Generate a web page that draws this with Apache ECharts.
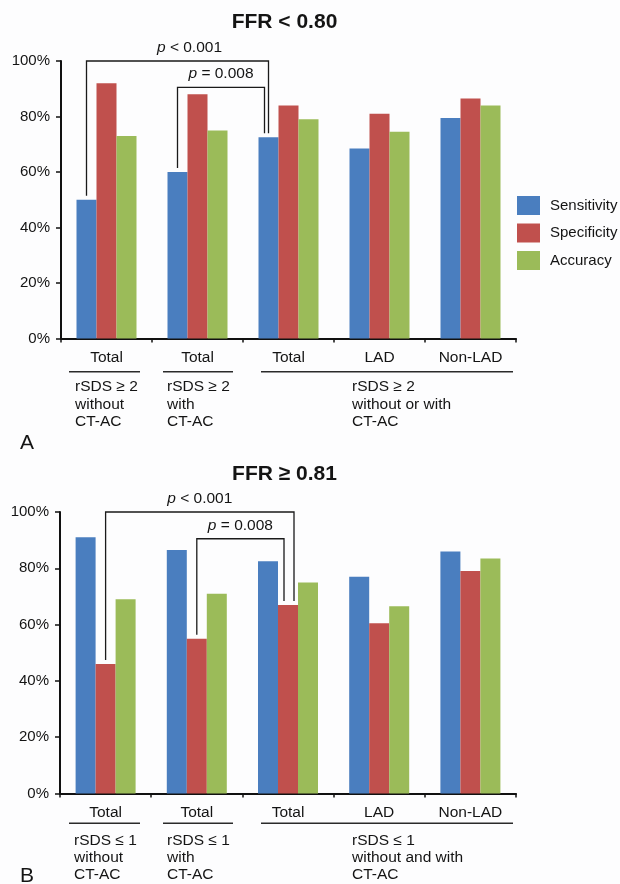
<!DOCTYPE html>
<html>
<head>
<meta charset="utf-8">
<script src="https://cdn.jsdelivr.net/npm/echarts@6/dist/echarts.min.js"></script>
<style>
  html, body { margin: 0; padding: 0; background: #fdfdfe; }
  #chart { width: 620px; height: 884px; }
</style>
</head>
<body>
<div id="chart"></div>
<script>
// Diagnostic performance of rSDS for FFR thresholds (panel A: FFR < 0.80, panel B: FFR >= 0.81)
const categories = ['Total', 'Total', 'Total', 'LAD', 'Non-LAD'];
const seriesNames = ['Sensitivity', 'Specificity', 'Accuracy'];

// Panel A (%)
const sensitivityA = [50, 60, 72.5, 68.5, 79.5];
const specificityA = [92, 88, 84, 81, 86.5];
const accuracyA    = [73, 75, 79, 74.5, 84];

// Panel B (%)
const sensitivityB = [91, 86.5, 82.5, 77, 86];
const specificityB = [46, 55, 67, 60.5, 79];
const accuracyB    = [69, 71, 75, 66.5, 83.5];

const yTickValues = [0, 20, 40, 60, 80, 100];

// Comparison brackets: [fromCategory, fromSeries, toCategory, toSeries, bracketLevel(%)]
const bracketsA = [[0, 0, 2, 0, 100], [1, 0, 2, 0, 90.5]];
const bracketsB = [[0, 1, 2, 1, 100], [1, 1, 2, 1, 90.5]];
const bracketLabels = ['< 0.001', '= 0.008'];

const colors = ['#4a7ebf', '#c0504d', '#9bbb59'];
const FONT = '"Liberation Sans", Arial, Helvetica, sans-serif';
const TEXT = '#141414';
const BAR_W = 20;
const LABEL_SIZE = 15.5;

const chart = echarts.init(document.getElementById('chart'));

function xAxisCfg(gridIndex) {
  return {
    type: 'category', gridIndex: gridIndex, data: categories,
    axisLine: { lineStyle: { color: '#111', width: 2 } },
    axisTick: { show: true, length: 4, lineStyle: { color: '#111', width: 1.5 } },
    axisLabel: { color: TEXT, fontSize: LABEL_SIZE, fontFamily: FONT, margin: 11 }
  };
}
function yAxisCfg(gridIndex) {
  return {
    type: 'value', gridIndex: gridIndex, min: 0, max: 100, interval: 20,
    splitLine: { show: false },
    axisLine: { show: true, lineStyle: { color: '#111', width: 2 } },
    axisTick: { show: true, length: 5, lineStyle: { color: '#111', width: 1.5 } },
    axisLabel: {
      color: TEXT, fontSize: 15, fontFamily: FONT, margin: 11,
      formatter: function (v) { return yTickValues.indexOf(v) >= 0 ? v + '%' : ''; }
    }
  };
}

function barSeries(name, data, idx, axisIndex) {
  return {
    name: name, type: 'bar', data: data,
    xAxisIndex: axisIndex, yAxisIndex: axisIndex,
    barWidth: BAR_W, barGap: '0%',
    itemStyle: { color: colors[idx] },
    emphasis: { disabled: true }
  };
}

// rightShift nudges the right-hand leg of each bracket sideways so legs don't overlap;
// labelShift moves the p-value text horizontally from the bracket midpoint
function bracketSeries(brackets, values, axisIndex, rightShift, labelShift) {
  return {
    type: 'custom', xAxisIndex: axisIndex, yAxisIndex: axisIndex,
    data: brackets, encode: { x: 0, y: 4 }, clip: false, silent: true,
    renderItem: function (params, api) {
      const i = params.dataIndex;
      const c0 = api.value(0), s0 = api.value(1), c1 = api.value(2), s1 = api.value(3), lvl = api.value(4);
      const p0 = api.coord([c0, values[s0][c0]]);
      const p1 = api.coord([c1, values[s1][c1]]);
      const yTop = api.coord([c0, lvl])[1];
      const x0 = p0[0] + (s0 - 1) * BAR_W;
      const x1 = p1[0] + (s1 - 1) * BAR_W + rightShift[i];
      return {
        type: 'group',
        children: [
          {
            type: 'polyline',
            shape: { points: [[x0, p0[1] - 4], [x0, yTop], [x1, yTop], [x1, p1[1] - 4]] },
            style: { stroke: '#1a1a1a', lineWidth: 1.3, fill: 'none' }
          },
          {
            type: 'text',
            style: {
              text: '{i|p} ' + bracketLabels[i],
              x: (x0 + x1) / 2 + labelShift[i], y: yTop - 13.5,
              align: 'center', verticalAlign: 'middle',
              fontSize: LABEL_SIZE, fontFamily: FONT, fill: TEXT,
              rich: { i: { fontStyle: 'italic', fontSize: LABEL_SIZE, fontFamily: FONT, fill: TEXT } }
            }
          }
        ]
      };
    }
  };
}

function txt(text, x, y, opts) {
  return {
    type: 'text', silent: true,
    style: Object.assign({
      text: text, x: x, y: y, fill: TEXT, fontSize: LABEL_SIZE, fontFamily: FONT,
      align: 'left', verticalAlign: 'middle'
    }, opts || {})
  };
}
function hline(x1, x2, y) {
  return { type: 'line', silent: true, shape: { x1: x1, y1: y, x2: x2, y2: y }, style: { stroke: '#2a2a2a', lineWidth: 1.5 } };
}

const valuesA = [sensitivityA, specificityA, accuracyA];
const valuesB = [sensitivityB, specificityB, accuracyB];

const graphics = [
  txt('FFR < 0.80', 284.5, 22, { align: 'center', fontSize: 21, fontWeight: 'bold' }),
  txt('FFR \u2265 0.81', 284.5, 474, { align: 'center', fontSize: 21, fontWeight: 'bold' }),
  // group captions, panel A
  hline(69, 140, 371.7), hline(163, 233, 371.7), hline(261, 513, 371.7),
  txt('rSDS \u2265 2\nwithout\nCT-AC', 75, 378, { verticalAlign: 'top', lineHeight: 17.5 }),
  txt('rSDS \u2265 2\nwith\nCT-AC', 167, 378, { verticalAlign: 'top', lineHeight: 17.5 }),
  txt('rSDS \u2265 2\nwithout or with\nCT-AC', 352, 378, { verticalAlign: 'top', lineHeight: 17.5 }),
  txt('A', 20, 443, { fontSize: 21 }),
  // group captions, panel B
  hline(69, 140, 823.3), hline(163, 233, 823.3), hline(261, 513, 823.3),
  txt('rSDS \u2264 1\nwithout\nCT-AC', 74, 832.5, { verticalAlign: 'top', lineHeight: 17 }),
  txt('rSDS \u2264 1\nwith\nCT-AC', 167, 832.5, { verticalAlign: 'top', lineHeight: 17 }),
  txt('rSDS \u2264 1\nwithout and with\nCT-AC', 352, 832.5, { verticalAlign: 'top', lineHeight: 17 }),
  txt('B', 20, 876, { fontSize: 21 })
];

chart.setOption({
  backgroundColor: '#fdfdfe',
  animation: false,
  textStyle: { fontFamily: FONT },
  legend: {
    orient: 'vertical', left: 517, top: 196, padding: 0,
    icon: 'rect', itemWidth: 23, itemHeight: 19, itemGap: 8.5,
    data: seriesNames,
    textStyle: { color: TEXT, fontSize: 15, fontFamily: FONT, padding: [0, 0, 0, 5] },
    selectedMode: false
  },
  grid: [
    { left: 61, top: 61, width: 455, height: 277.5 },
    { left: 60, top: 512, width: 456, height: 281.5 }
  ],
  xAxis: [xAxisCfg(0), xAxisCfg(1)],
  yAxis: [yAxisCfg(0), yAxisCfg(1)],
  series: [
    barSeries(seriesNames[0], sensitivityA, 0, 0),
    barSeries(seriesNames[1], specificityA, 1, 0),
    barSeries(seriesNames[2], accuracyA, 2, 0),
    barSeries(seriesNames[0], sensitivityB, 0, 1),
    barSeries(seriesNames[1], specificityB, 1, 1),
    barSeries(seriesNames[2], accuracyB, 2, 1),
    bracketSeries(bracketsA, valuesA, 0, [0, -4], [12, 0]),
    bracketSeries(bracketsB, valuesB, 1, [6, -4], [0, 0])
  ],
  graphic: graphics
});
</script>
</body>
</html>
